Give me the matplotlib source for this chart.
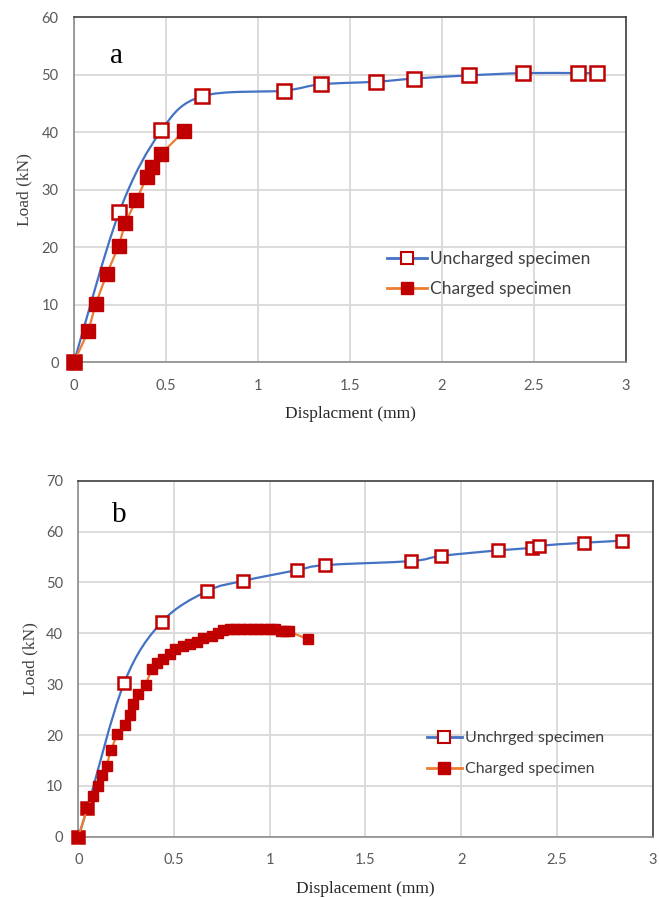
import numpy as np
import matplotlib
matplotlib.use("Agg")
import matplotlib.pyplot as plt
from matplotlib.path import Path
from matplotlib.patches import PathPatch
from matplotlib.lines import Line2D

# ---- Panel a: load-displacement ----
a_unch_disp = [0, 0.246, 0.475, 0.694, 1.141, 1.34, 1.643, 1.848, 2.145, 2.442, 2.74, 2.84]
a_unch_load = [0, 26.1, 40.3, 46.2, 47.2, 48.3, 48.75, 49.3, 49.85, 50.25, 50.25, 50.25]
a_chg_disp = [0, 0.078, 0.118, 0.178, 0.243, 0.279, 0.337, 0.397, 0.422, 0.471, 0.596]
a_chg_load = [0, 5.4, 10.1, 15.3, 20.2, 24.2, 28.1, 32.2, 34.0, 36.1, 40.1]

# ---- Panel b: load-displacement ----
b_unch_disp = [0, 0.047, 0.24, 0.438, 0.673, 0.861, 1.14, 1.288, 1.74, 1.893,
               2.192, 2.372, 2.406, 2.641, 2.841]
b_unch_load = [0, 5.6, 30.3, 42.3, 48.3, 50.3, 52.4, 53.4, 54.2, 55.2,
               56.3, 56.8, 57.2, 57.8, 58.2]
b_chg_disp = [0, 0.047, 0.078, 0.104, 0.122, 0.148, 0.169, 0.204, 0.245, 0.27,
              0.284, 0.31, 0.352, 0.383, 0.409, 0.444, 0.479, 0.505, 0.548, 0.583,
              0.618, 0.652, 0.696, 0.731, 0.757, 0.79, 0.82, 0.85, 0.88, 0.91,
              0.94, 0.97, 1.0, 1.03, 1.06, 1.08, 1.10, 1.20]
b_chg_load = [0, 5.6, 8.0, 10.0, 12.1, 13.9, 17.0, 20.1, 21.9, 24.0,
              26.1, 28.0, 29.9, 32.9, 34.1, 35.0, 36.0, 37.0, 37.5, 37.9,
              38.3, 39.0, 39.4, 40.1, 40.6, 40.8, 40.8, 40.8, 40.8, 40.8,
              40.8, 40.8, 40.8, 40.8, 40.4, 40.4, 40.4, 38.8]

x_ticks = [0, 0.5, 1, 1.5, 2, 2.5, 3]
x_tick_labels = ["0", "0.5", "1", "1.5", "2", "2.5", "3"]

BLUE = "#4472C4"
ORANGE = "#ED7D31"
RED = "#C00000"
TICK_FONT = "Lato"
SERIF = "Liberation Serif"


def smooth_path(x, y):
    """Cubic Bezier path through the points (spreadsheet-style smoothed line)."""
    pts = np.column_stack([x, y]).astype(float)
    n = len(pts)
    verts = [pts[0]]
    codes = [Path.MOVETO]
    for i in range(n - 1):
        p0 = pts[i - 1] if i > 0 else pts[i]
        p1 = pts[i]
        p2 = pts[i + 1]
        p3 = pts[i + 2] if i + 2 < n else pts[i + 1]
        c1 = p1 + (p2 - p0) / 6.0
        c2 = p2 - (p3 - p1) / 6.0
        verts += [c1, c2, p2]
        codes += [Path.CURVE4] * 3
    return Path(verts, codes)


def style_axes(ax, ymax, xlabel, panel, panel_xy, ylabel_x):
    ax.set_xlim(0, 3)
    ax.set_ylim(0, ymax)
    ax.set_xticks(x_ticks)
    ax.set_xticklabels(x_tick_labels)
    ax.set_yticks(range(0, ymax + 1, 10))
    ax.grid(True, color="#d9d9d9", linewidth=1.3)
    ax.set_axisbelow(True)
    ax.tick_params(length=0, labelsize=10.5, labelcolor="#595959")
    ax.tick_params(axis="y", pad=11)
    ax.tick_params(axis="x", pad=12)
    for lab in ax.get_xticklabels() + ax.get_yticklabels():
        lab.set_fontfamily(TICK_FONT)
    for side in ("left", "bottom"):
        ax.spines[side].set_color("#8c8c8c")
        ax.spines[side].set_linewidth(1.2)
    for side in ("top", "right"):
        ax.spines[side].set_color("#404040")
        ax.spines[side].set_linewidth(1.2)
    ax.set_ylabel("Load (kN)", fontfamily=SERIF, fontsize=12.5, color="#404040")
    ax.yaxis.set_label_coords(ylabel_x, 0.5)
    ax.set_xlabel(xlabel, fontfamily=SERIF, fontsize=12.5, color="#262626",
                  labelpad=9.5)
    ax.text(panel_xy[0], panel_xy[1], panel, transform=ax.transAxes,
            fontfamily=SERIF, fontsize=21, color="black",
            va="baseline", ha="center")


def draw_panel(ax, ux, uy, cx, cy, msize_open, msize_fill):
    ax.add_patch(PathPatch(smooth_path(ux, uy), facecolor="none",
                           edgecolor=BLUE, linewidth=1.6, zorder=2))
    ax.plot(ux, uy, linestyle="none", marker="s", markersize=msize_open,
            markerfacecolor="white", markeredgecolor=RED,
            markeredgewidth=1.8, zorder=3, clip_on=False)
    ax.plot(cx, cy, color=ORANGE, linewidth=1.6, marker="s",
            markersize=msize_fill, markerfacecolor=RED,
            markeredgecolor=RED, zorder=4, clip_on=False)


def add_legend(ax, labels, anchor, size, spacing, hlen):
    handles = [
        Line2D([], [], color=BLUE, linewidth=2, marker="s", markersize=8,
               markerfacecolor="white", markeredgecolor=RED, markeredgewidth=1.5),
        Line2D([], [], color=ORANGE, linewidth=2, marker="s", markersize=8,
               markerfacecolor=RED, markeredgecolor=RED),
    ]
    ax.legend(handles, labels, loc="center left", bbox_to_anchor=anchor,
              frameon=False, handlelength=hlen, handletextpad=0.2,
              labelspacing=spacing, borderpad=0, borderaxespad=0,
              prop={"family": TICK_FONT, "size": size},
              labelcolor="#404040")


fig = plt.figure(figsize=(6.59, 8.97), dpi=100)

ax_a = fig.add_axes([0.1123, 0.5964, 0.8376, 0.3846])
draw_panel(ax_a, a_unch_disp, a_unch_load, a_chg_disp, a_chg_load, 9.5, 9.5)
style_axes(ax_a, 60, "Displacment (mm)", "a", (0.077, 0.868), -0.076)
add_legend(ax_a, ["Uncharged specimen", "Charged specimen"], (0.567, 0.2545),
           12.5, 0.8, 2.3)

ax_b = fig.add_axes([0.1188, 0.0672, 0.8716, 0.3969])
draw_panel(ax_b, b_unch_disp, b_unch_load, b_chg_disp, b_chg_load, 8.5, 7.5)
style_axes(ax_b, 70, "Displacement (mm)", "b", (0.071, 0.885), -0.070)
add_legend(ax_b, ["Unchrged specimen", "Charged specimen"], (0.6066, 0.233),
           11.5, 1.06, 2.2)

fig.savefig("out.png", dpi=100)
